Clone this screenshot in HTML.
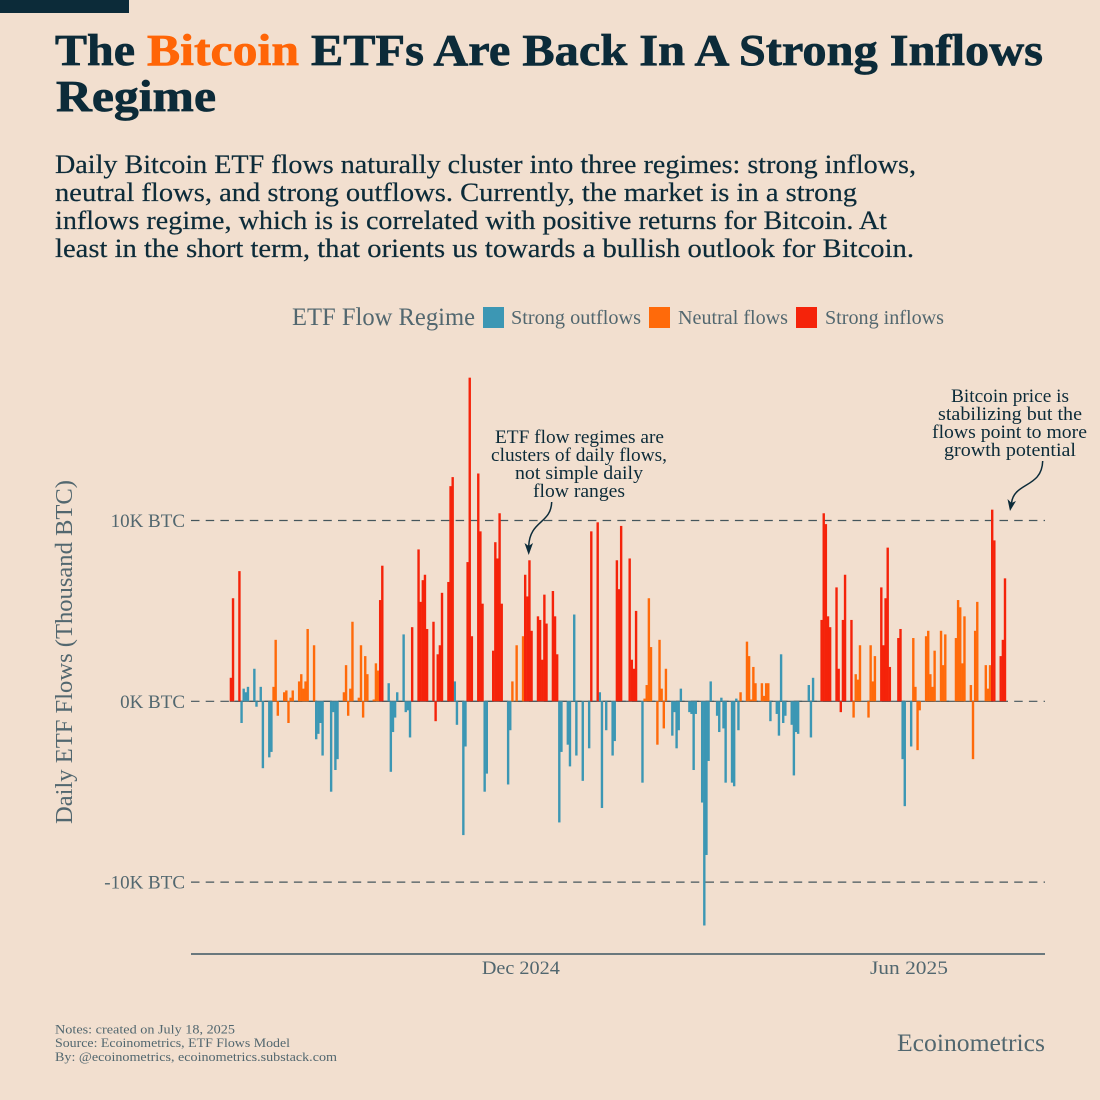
<!DOCTYPE html>
<html lang="en">
<head>
<meta charset="utf-8">
<title>The Bitcoin ETFs Are Back In A Strong Inflows Regime</title>
<style>
html,body{margin:0;padding:0;background:#f2dfcf;}
svg{display:block;font-family:"Liberation Serif",serif;}
.title{font-weight:bold;font-size:44px;fill:#0c2b39;stroke:#0c2b39;stroke-width:0.7px;}
.sub{font-size:26px;fill:#0c2b39;stroke:#0c2b39;stroke-width:0.2px;}
.leg{font-size:20px;fill:#52676f;}
.tick{font-size:19px;fill:#52676f;}
.foot{font-size:13px;fill:#52676f;}
.note{font-size:19px;fill:#0c2b39;text-anchor:middle;}
</style>
</head>
<body>
<svg id="chart" xmlns="http://www.w3.org/2000/svg" width="1100" height="1100" viewBox="0 0 1100 1100">
<rect x="0" y="0" width="1100" height="1100" fill="#f2dfcf"/>
<rect x="0" y="0" width="129" height="13" fill="#0c2b39"/>

<text class="title" x="55" y="65" textLength="80" lengthAdjust="spacingAndGlyphs">The</text>
<text class="title" x="147" y="65" textLength="152" lengthAdjust="spacingAndGlyphs" style="fill:#ff6507;stroke:#ff6507">Bitcoin</text>
<text class="title" x="311" y="65" textLength="732" lengthAdjust="spacingAndGlyphs">ETFs Are Back In A Strong Inflows</text>
<text class="title" x="56" y="111" textLength="160" lengthAdjust="spacingAndGlyphs">Regime</text>

<text class="sub" x="55" y="173" textLength="861" lengthAdjust="spacingAndGlyphs">Daily Bitcoin ETF flows naturally cluster into three regimes: strong inflows,</text>
<text class="sub" x="55" y="201" textLength="802" lengthAdjust="spacingAndGlyphs">neutral flows, and strong outflows. Currently, the market is in a strong</text>
<text class="sub" x="55" y="229" textLength="832" lengthAdjust="spacingAndGlyphs">inflows regime, which is is correlated with positive returns for Bitcoin. At</text>
<text class="sub" x="55" y="257" textLength="859" lengthAdjust="spacingAndGlyphs">least in the short term, that orients us towards a bullish outlook for Bitcoin.</text>

<g>
<text x="292" y="325" font-size="25" fill="#52676f" textLength="183" lengthAdjust="spacingAndGlyphs">ETF Flow Regime</text>
<rect x="483" y="307" width="21" height="21" fill="#3c97b4"/>
<text class="leg" x="511" y="324" textLength="130" lengthAdjust="spacingAndGlyphs">Strong outflows</text>
<rect x="649" y="307" width="21" height="21" fill="#ff6a0a"/>
<text class="leg" x="678" y="324" textLength="110" lengthAdjust="spacingAndGlyphs">Neutral flows</text>
<rect x="796" y="307" width="21" height="21" fill="#f5230a"/>
<text class="leg" x="825" y="324" textLength="119" lengthAdjust="spacingAndGlyphs">Strong inflows</text>
</g>

<g id="grid"></g>
<g id="bars"></g>
<g id="yTicks"></g>
<g id="xTicks"></g>
<line x1="191" y1="954" x2="1045" y2="954" stroke="#3d5762" stroke-width="1.4"/>
<text transform="translate(72,652) rotate(-90)" text-anchor="middle" font-size="24" fill="#52676f" textLength="344" lengthAdjust="spacingAndGlyphs">Daily ETF Flows (Thousand BTC)</text>

<g>
<text class="note" x="579.5" y="443" textLength="169" lengthAdjust="spacingAndGlyphs">ETF flow regimes are</text>
<text class="note" x="579" y="461" textLength="176" lengthAdjust="spacingAndGlyphs">clusters of daily flows,</text>
<text class="note" x="579" y="479" textLength="128" lengthAdjust="spacingAndGlyphs">not simple daily</text>
<text class="note" x="579" y="497" textLength="92" lengthAdjust="spacingAndGlyphs">flow ranges</text>
<path d="M551.7,502 C551,524 530,520 528.7,546" fill="none" stroke="#0c2b39" stroke-width="1.5"/>
<path d="M524.5,543 L528.7,555 L533,543 L528.7,546 Z" fill="#0c2b39"/>
</g>
<g>
<text class="note" x="1010" y="402" textLength="118" lengthAdjust="spacingAndGlyphs">Bitcoin price is</text>
<text class="note" x="1010" y="420" textLength="144" lengthAdjust="spacingAndGlyphs">stabilizing but the</text>
<text class="note" x="1009.5" y="438" textLength="155" lengthAdjust="spacingAndGlyphs">flows point to more</text>
<text class="note" x="1010" y="456" textLength="132" lengthAdjust="spacingAndGlyphs">growth potential</text>
<path d="M1042.7,461 C1042,488 1014,482 1011.5,503" fill="none" stroke="#0c2b39" stroke-width="1.5"/>
<path d="M1007.5,499 L1010,511 L1016,501 L1011.5,503 Z" fill="#0c2b39"/>
</g>

<g>
<text class="foot" x="55" y="1033.5" textLength="180" lengthAdjust="spacingAndGlyphs">Notes: created on July 18, 2025</text>
<text class="foot" x="55" y="1047" textLength="235" lengthAdjust="spacingAndGlyphs">Source: Ecoinometrics, ETF Flows Model</text>
<text class="foot" x="55" y="1061" textLength="282" lengthAdjust="spacingAndGlyphs">By: @ecoinometrics, ecoinometrics.substack.com</text>
</g>
<text x="897" y="1051" font-size="25" fill="#52676f" textLength="148" lengthAdjust="spacingAndGlyphs">Ecoinometrics</text>
</svg>
<script>
// Day index counts calendar days from the first plotted date (17 Jul 2024). Values are thousand BTC.
const outflowDays = [5,6,7,8,11,12,14,15,18,19,40,41,42,43,47,48,49,50,74,75,76,77,78,81,82,83,84,105,106,109,110,119,120,130,131,154,155,158,159,161,162,165,168,173,174,176,179,180,193,207,208,209,210,211,215,216,217,218,221,222,223,224,225,228,229,230,231,232,235,236,237,238,253,256,257,258,259,260,263,264,265,266,271,272,273,315,316,319];
const outflowValues = [-1.2,.7,.5,.8,1.8,-.3,.8,-3.7,-3.1,-2.8,-2.1,-1.8,-1.2,-3,-5,-.6,-3.8,-3.2,1,-3.9,-1.7,-.9,.5,3.7,-.6,-.5,-2,1.1,-1.3,-7.4,-2.5,-5,-4,-4.6,-1.6,-6.7,-2.8,-2.4,-3.6,4.8,-3,-4.4,-2.6,.5,-5.9,-1.6,-3,-2.2,-4.5,-1.9,-.6,-2.6,-1.6,.7,-.6,-.7,-3.8,-.7,-5.6,-12.4,-8.5,-3.3,1.1,-.8,-1.7,.2,-1.5,-4.5,-4.5,-4.7,.15,-1.6,-1.1,-.7,-1.9,2.6,-1.2,-.8,-1.3,-4.1,-1.7,-1.8,.9,-2,1.3,-3.2,-5.8,-2.5];
const neutralDays = [20,21,22,25,26,27,28,29,32,33,34,35,36,39,53,54,55,56,57,60,61,62,63,64,67,68,69,132,134,137,194,195,196,197,200,201,202,203,204,239,242,243,244,245,246,249,250,251,252,292,293,294,295,299,300,301,302,320,321,322,323,326,327,328,329,330,333,334,335,340,341,342,343,344,347,348,349,350,354,355,356];
const neutralValues = [.8,3.4,-.8,.5,.6,-1.2,.2,.6,1.1,1.5,.7,1.1,4,3.1,.5,2,-.8,.7,4.4,.2,3.1,-.9,2.5,1.5,.1,2.1,1.7,1.1,3.1,3.6,.15,.9,5.7,3,-2.4,3.4,.7,-1.5,1.8,.5,3.3,2.5,.1,1.9,1,1,.3,1,1,-.9,1.5,1.2,3.1,-.9,3.1,1.1,2.5,3.5,.8,-2.7,-.5,3.6,3.9,1.5,.8,2.8,3.9,2,3.7,3.5,5.6,5.2,2.1,4.7,.9,-3.2,3.9,5.5,2,.7,2];
const inflowDays = [0,1,4,70,71,85,88,89,90,91,92,95,96,97,98,99,102,103,104,111,112,113,116,117,118,123,124,125,126,127,138,139,140,141,144,145,146,147,148,151,152,153,169,172,181,182,183,187,188,189,190,277,278,279,280,281,284,285,286,287,288,291,305,306,307,308,309,313,314,357,358,361,362,363];
const inflowValues = [1.3,5.7,7.2,5.6,7.5,4.1,8.4,5.5,6.7,7,4,4.4,-1.1,2.6,3.1,6,6.6,11.9,12.4,7.7,17.9,3.6,12.6,9.4,5.4,2.8,8.8,7.9,10.4,5.4,7,5.8,7.8,3.9,4.7,4.5,2.3,5.9,4.3,6.1,4.7,2.6,9.4,9.9,7.8,6.2,9.7,7.9,2.3,1.8,5,4.5,10.4,9.8,4.7,4.1,6.3,1.8,-.6,4.5,7,4.5,6.3,3.1,5.7,8.5,1.9,3.5,4,10.6,8.9,2.5,3.4,6.8];
const yTickValues = [10,0,-10];
const yTickLabels = ['10K BTC','0K BTC','-10K BTC'];
const xTickDays = [137,319];
const xTickLabels = ['Dec 2024','Jun 2025'];

const SVG_NS = 'http://www.w3.org/2000/svg';
const xScale = d => 229.7 + d * 2.1325;
const yScale = v => 701.3 - v * 18.08;
const BAR_WIDTH = 2.4;
const X_TICK_LABEL_WIDTH = 78;

function svgEl(tag, parent) {
  const el = document.createElementNS(SVG_NS, tag);
  parent.appendChild(el);
  return el;
}

const gridLayer = document.getElementById('grid');
yTickValues.forEach(function (v) {
  const g = svgEl('line', gridLayer);
  
  
  g.setAttribute('x1', 191);
  g.setAttribute('x2', 1045);
  g.setAttribute('y1', yScale(v));
  g.setAttribute('y2', yScale(v));
  g.setAttribute('stroke', '#45565c');
  g.setAttribute('stroke-width', 1.2);
  g.setAttribute('stroke-dasharray', '8.5 6.2');
});

const allDays = [outflowDays, neutralDays, inflowDays].flat();
const zeroLine = svgEl('line', gridLayer);


zeroLine.setAttribute('x1', xScale(Math.min.apply(null, allDays)));
zeroLine.setAttribute('x2', xScale(Math.max.apply(null, allDays)) + BAR_WIDTH);
zeroLine.setAttribute('y1', yScale(0));
zeroLine.setAttribute('y2', yScale(0));
zeroLine.setAttribute('stroke', '#45565c');
zeroLine.setAttribute('stroke-width', 1.2);

const barLayer = document.getElementById('bars');
function drawSeries(days, values, color, name) {
  days.forEach(function (d, i) {
    const v = values[i];
    const r = svgEl('rect', barLayer);
    
    
    r.setAttribute('x', xScale(d));
    r.setAttribute('width', BAR_WIDTH);
    r.setAttribute('y', Math.min(yScale(v), yScale(0)));
    r.setAttribute('height', Math.abs(yScale(v) - yScale(0)));
    r.setAttribute('fill', color);
  });
}
drawSeries(outflowDays, outflowValues, '#3c97b4', 'bar-strong-outflows');
drawSeries(neutralDays, neutralValues, '#ff6a0a', 'bar-neutral-flows');
drawSeries(inflowDays, inflowValues, '#f5230a', 'bar-strong-inflows');

const yTickLayer = document.getElementById('yTicks');
yTickValues.forEach(function (v, i) {
  const t = svgEl('text', yTickLayer);
  
  
  t.setAttribute('class', 'tick');
  t.setAttribute('x', 185);
  t.setAttribute('y', yScale(v) + 6.5);
  t.setAttribute('text-anchor', 'end');
  t.textContent = yTickLabels[i];
});

const xTickLayer = document.getElementById('xTicks');
xTickDays.forEach(function (d, i) {
  const t = svgEl('text', xTickLayer);
  
  
  t.setAttribute('class', 'tick');
  t.setAttribute('x', xScale(d) - 1);
  t.setAttribute('y', 974);
  t.setAttribute('text-anchor', 'middle');
  t.setAttribute('textLength', X_TICK_LABEL_WIDTH);
  t.setAttribute('lengthAdjust', 'spacingAndGlyphs');
  t.textContent = xTickLabels[i];
});
</script>
</body>
</html>
